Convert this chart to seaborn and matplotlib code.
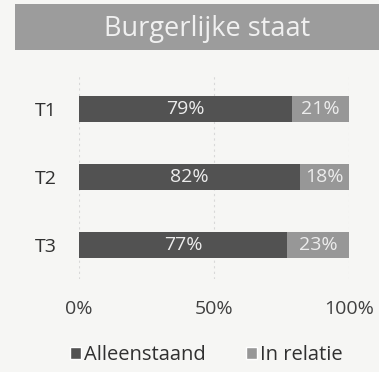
import matplotlib
matplotlib.use("Agg")
import matplotlib.pyplot as plt
from matplotlib.patches import Rectangle, Patch
import seaborn as sns
import pandas as pd

periods = ["T1", "T2", "T3"]
alleenstaand = [79, 82, 77]
in_relatie = [21, 18, 23]
x_ticks = [0, 50, 100]
x_tick_labels = ["0%", "50%", "100%"]
series_names = ["Alleenstaand", "In relatie"]
title = "Burgerlijke staat"

dark = "#525252"
light = "#979797"
bg = "#f6f6f4"

sns.set_theme(style="white")
plt.rcParams["font.family"] = ["Open Sans", "DejaVu Sans"]

df = pd.DataFrame({"periode": periods, "alleen": alleenstaand, "relatie": in_relatie})
df["totaal"] = df["alleen"] + df["relatie"]

fig = plt.figure(figsize=(3.79, 3.72), dpi=100, facecolor=bg)
ax = fig.add_axes([0.2084, 0.25, 0.7124, 0.548], facecolor=bg)

# stacked horizontal bars: full total in the light colour, first segment on top
sns.barplot(data=df, y="periode", x="totaal", color=light, orient="h",
            width=0.38, ax=ax, saturation=1, linewidth=0)
sns.barplot(data=df, y="periode", x="alleen", color=dark, orient="h",
            width=0.38, ax=ax, saturation=1, linewidth=0)

for i, (a, r) in enumerate(zip(alleenstaand, in_relatie)):
    ax.text(a / 2, i, f"{a}%", ha="center", va="center", color="#ececec", fontsize=14)
    ax.text(a + r / 2, i, f"{r}%", ha="center", va="center", color="#ececec", fontsize=14)

ax.set_xlim(0, 100)
ax.set_ylim(2.5, -0.5)
ax.set_xticks(x_ticks)
ax.set_xticklabels(x_tick_labels, fontsize=14, color="#404040")
ax.tick_params(axis="x", pad=15, length=0)
ax.tick_params(axis="y", pad=16, length=0, labelsize=14, labelcolor="#303030")
ax.set_xlabel("")
ax.set_ylabel("")
for x in x_ticks:
    ax.axvline(x, color="#d8d8d8", lw=0.8, ls=(0, (2, 3)), zorder=0)
for s in ax.spines.values():
    s.set_visible(False)

# title banner
fig.patches.append(Rectangle((15 / 379, 1 - 50 / 372), 364 / 379, 46 / 372,
                             transform=fig.transFigure, facecolor="#9c9c9c",
                             edgecolor="none", zorder=0))
fig.text(207 / 379, 1 - 29 / 372, title, ha="center", va="center",
         fontsize=19.5, color="#f0f0f0")

handles = [Patch(facecolor=dark, label=series_names[0]),
           Patch(facecolor=light, label=series_names[1])]
fig.legend(handles=handles, loc="center", bbox_to_anchor=(0.545, 1 - 355 / 372),
           ncol=2, frameon=False, fontsize=14.5, handlelength=0.55, handleheight=0.55,
           handletextpad=0.15, columnspacing=2.0, labelcolor="#303030")

fig.savefig("out.png", dpi=100, facecolor=bg)
